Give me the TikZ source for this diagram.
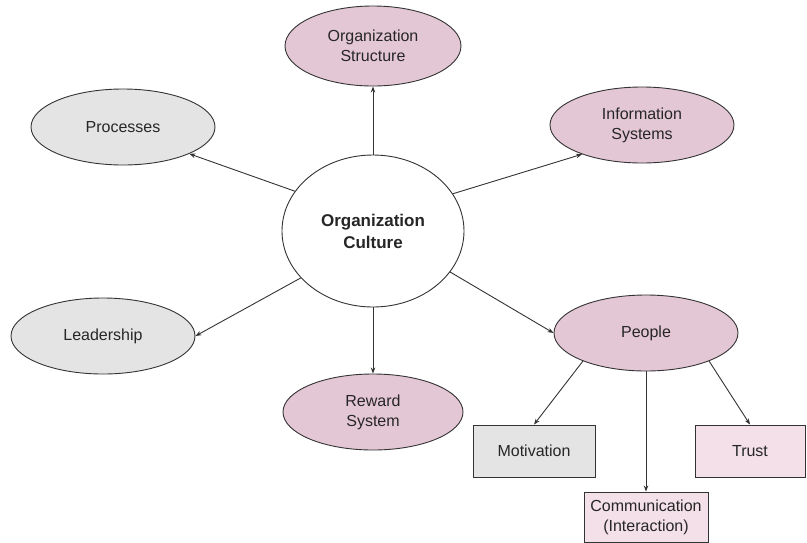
\documentclass[tikz,border=0pt]{standalone}
\usepackage{fontspec}
\setmainfont{Liberation Sans}
\usetikzlibrary{shapes.geometric,arrows.meta}
\definecolor{pinkfill}{HTML}{E4C7D4}
\definecolor{lightpink}{HTML}{F3E0E8}
\definecolor{greyfill}{HTML}{E4E4E4}
\definecolor{edge}{HTML}{333333}
\tikzset{
  base/.style={draw=edge, line width=0.9pt, align=center, inner sep=0pt,
    font=\fontsize{16}{20}\selectfont, text=black!85},
  ell/.style={base, ellipse, minimum width=184pt, minimum height=76pt},
  pinkell/.style={ell, fill=pinkfill},
  greyell/.style={ell, fill=greyfill},
  boxnode/.style={base, rectangle},
  conn/.style={draw=edge, line width=0.9pt, -{Stealth[length=6pt,width=4.5pt]}}
}
\begin{document}
\begin{tikzpicture}[x=1pt,y=-1pt]
\useasboundingbox (0,0) rectangle (807,542);
\node[base, ellipse, fill=white, minimum width=182pt, minimum height=152pt,
  font=\fontsize{17}{22}\selectfont\bfseries] (oc) at (373,231) {Organization\\Culture};
\node[pinkell, minimum width=176pt, minimum height=80pt] (os) at (373,46) {Organization\\Structure};
\node[greyell] (pr) at (123,127) {Processes};
\node[pinkell] (is) at (642,125) {Information\\Systems};
\node[greyell] (ld) at (103,336) {Leadership};
\node[pinkell, minimum width=180pt] (rw) at (373,412) {Reward\\System};
\node[pinkell] (pp) at (646,333) {People};
\node[boxnode, fill=greyfill, minimum width=122pt, minimum height=52pt] (mo) at (534,451) {Motivation};
\node[boxnode, fill=lightpink, minimum width=110pt, minimum height=52pt] (tr) at (750,451) {Trust};
\node[boxnode, fill=lightpink, minimum width=124pt, minimum height=50pt] (cm) at (646,517) {Communication\\(Interaction)};

\draw[conn] (oc.north) -- (os.south);
\draw[conn] (oc.153) -- (pr.-22);
\draw[conn] (oc.25) -- (is.206);
\draw[conn] (oc.213) -- (ld.east);
\draw[conn] (oc.south) -- (rw.north);
\draw[conn] (oc.-28) -- (pp.west);
\draw[conn] (pp.204) -- (mo.north);
\draw[conn] (pp.south) -- (cm.north);
\draw[conn] (pp.-24) -- (tr.north);
\end{tikzpicture}
\end{document}
